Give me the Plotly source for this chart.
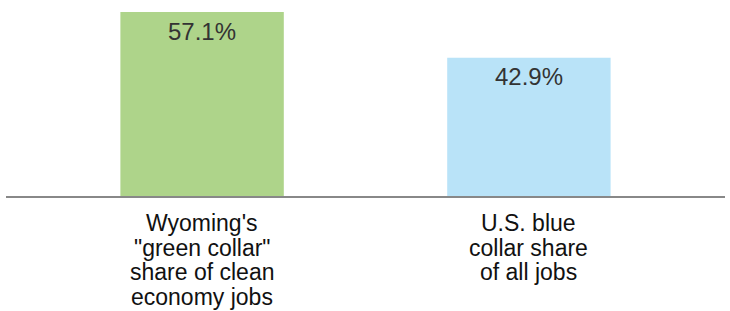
import plotly.graph_objects as go

categories = [["Wyoming's", "\"green collar\"", "share of clean", "economy jobs"],
              ["U.S. blue", "collar share", "of all jobs"]]
values = [57.1, 42.9]
labels = ["57.1%", "42.9%"]
colors = ["#aed48a", "#b9e3f8"]

x_idx = list(range(len(categories)))
FONT = "Liberation Sans, Arial, sans-serif"

fig = go.Figure()
fig.add_trace(go.Bar(
    x=x_idx, y=values, width=0.5,
    marker=dict(color=colors, line=dict(width=0)),
    hoverinfo="skip",
))

for i, (v, t) in enumerate(zip(values, labels)):
    fig.add_annotation(x=i, y=v, text=t, showarrow=False, yanchor="middle",
                       yshift=-19, font=dict(family=FONT, size=24, color="#333333"))

# category labels, one annotation per line (tight line spacing)
for i, lines in enumerate(categories):
    for k, line in enumerate(lines):
        fig.add_annotation(x=i, xref="x", y=0, yref="paper", text=line, showarrow=False,
                           yanchor="middle", yshift=-(27 + 24.7 * k),
                           font=dict(family=FONT, size=23, color="#111111"))

fig.update_layout(
    width=730, height=311,
    margin=dict(l=6, r=5, t=12, b=115),
    paper_bgcolor="white", plot_bgcolor="white",
    showlegend=False,
    xaxis=dict(range=[-0.6, 1.6], tickvals=x_idx, showticklabels=False, automargin=False,
               showline=True, linecolor="#888888", linewidth=2, showgrid=False, zeroline=False,
               ticks=""),
    yaxis=dict(range=[0, 57.1], visible=False, showgrid=False, zeroline=False, automargin=False),
)

fig.write_html("out.html", config={"displayModeBar": False},
               post_script="document.body.style.margin='0';")
